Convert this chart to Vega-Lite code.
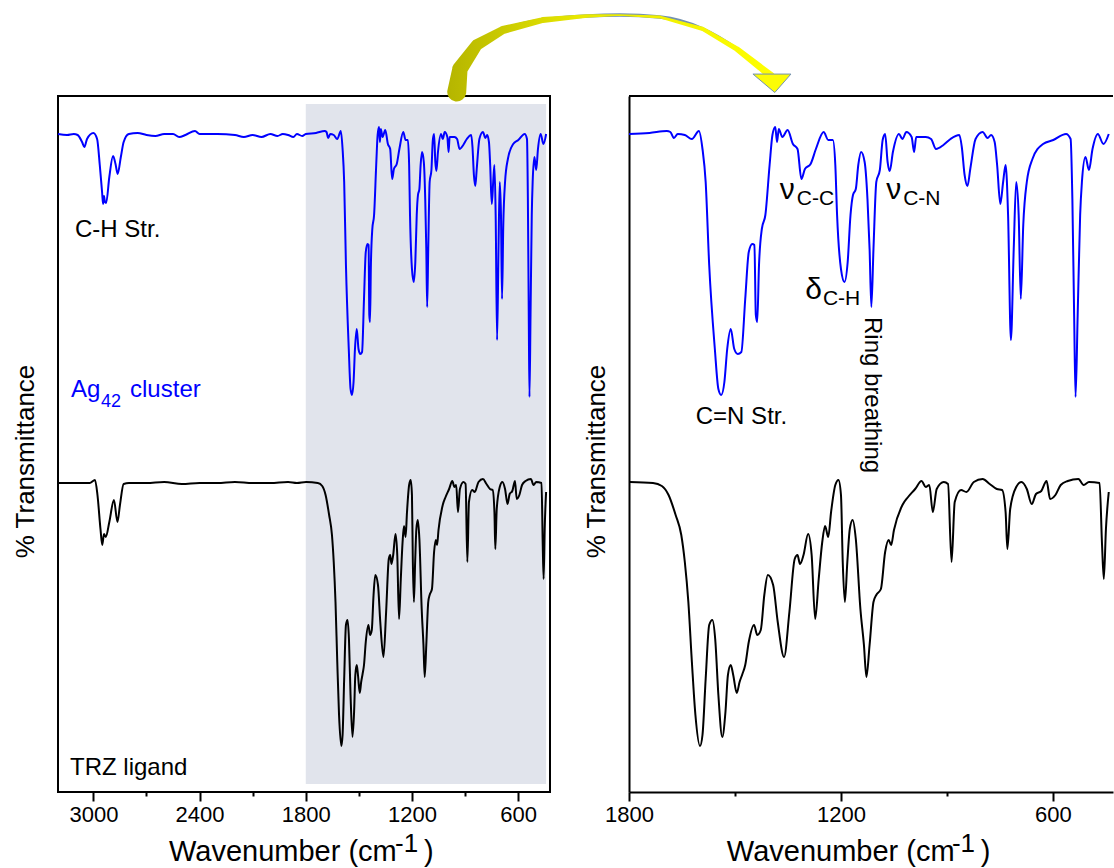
{
"$schema":"https://vega.github.io/schema/vega-lite/v6.json",
"background":"white",
"padding":{"left":11,"top":6,"right":0,"bottom":0},
"config":{"font":"Liberation Sans","view":{"stroke":null},"axis":{"labelFontSize":22,"labelColor":"black","titleColor":"black","titleFontWeight":"normal","grid":false,"tickColor":"black","tickWidth":2,"domainColor":"black","domainWidth":2,"labelFlush":false,"labelOverlap":false}},
"datasets":{"ir":[
{"s":"Ag42","wn":3200,"t":658},{"s":"Ag42","wn":3149,"t":657},{"s":"Ag42","wn":3111,"t":658},{"s":"Ag42","wn":3089,"t":657},{"s":"Ag42","wn":3064,"t":650},{"s":"Ag42","wn":3051,"t":645},{"s":"Ag42","wn":3036,"t":653},{"s":"Ag42","wn":3000,"t":659},{"s":"Ag42","wn":2979,"t":653},{"s":"Ag42","wn":2964,"t":627},{"s":"Ag42","wn":2951,"t":600},{"s":"Ag42","wn":2945,"t":588},{"s":"Ag42","wn":2940,"t":596},{"s":"Ag42","wn":2935,"t":590},{"s":"Ag42","wn":2928,"t":589},{"s":"Ag42","wn":2910,"t":615},{"s":"Ag42","wn":2889,"t":636},{"s":"Ag42","wn":2875,"t":628},{"s":"Ag42","wn":2863,"t":618},{"s":"Ag42","wn":2845,"t":635},{"s":"Ag42","wn":2829,"t":650},{"s":"Ag42","wn":2800,"t":658},{"s":"Ag42","wn":2750,"t":659},{"s":"Ag42","wn":2700,"t":657},{"s":"Ag42","wn":2650,"t":656},{"s":"Ag42","wn":2600,"t":658},{"s":"Ag42","wn":2550,"t":658},{"s":"Ag42","wn":2515,"t":655},{"s":"Ag42","wn":2480,"t":657},{"s":"Ag42","wn":2426,"t":661},{"s":"Ag42","wn":2400,"t":658},{"s":"Ag42","wn":2300,"t":658},{"s":"Ag42","wn":2200,"t":657},{"s":"Ag42","wn":2150,"t":655},{"s":"Ag42","wn":2100,"t":657},{"s":"Ag42","wn":2050,"t":655},{"s":"Ag42","wn":2000,"t":658},{"s":"Ag42","wn":1960,"t":656},{"s":"Ag42","wn":1930,"t":658},{"s":"Ag42","wn":1900,"t":657},{"s":"Ag42","wn":1870,"t":655},{"s":"Ag42","wn":1850,"t":658},{"s":"Ag42","wn":1820,"t":656},
{"s":"Ag42","wn":1800,"t":658},{"s":"Ag42","wn":1742,"t":659},{"s":"Ag42","wn":1693,"t":661},{"s":"Ag42","wn":1683,"t":660},{"s":"Ag42","wn":1673,"t":654},{"s":"Ag42","wn":1662,"t":658},{"s":"Ag42","wn":1642,"t":657},{"s":"Ag42","wn":1622,"t":653},{"s":"Ag42","wn":1602,"t":661},{"s":"Ag42","wn":1592,"t":643},{"s":"Ag42","wn":1583,"t":610},{"s":"Ag42","wn":1573,"t":527},{"s":"Ag42","wn":1557,"t":443},{"s":"Ag42","wn":1547,"t":403},{"s":"Ag42","wn":1539,"t":397},{"s":"Ag42","wn":1530,"t":410},{"s":"Ag42","wn":1522,"t":443},{"s":"Ag42","wn":1512,"t":463},{"s":"Ag42","wn":1502,"t":443},{"s":"Ag42","wn":1492,"t":438},{"s":"Ag42","wn":1482,"t":440},{"s":"Ag42","wn":1471,"t":493},{"s":"Ag42","wn":1461,"t":540},{"s":"Ag42","wn":1451,"t":548},{"s":"Ag42","wn":1445,"t":547},{"s":"Ag42","wn":1441,"t":477},{"s":"Ag42","wn":1437,"t":470},{"s":"Ag42","wn":1432,"t":527},{"s":"Ag42","wn":1424,"t":563},{"s":"Ag42","wn":1414,"t":577},{"s":"Ag42","wn":1402,"t":627},{"s":"Ag42","wn":1394,"t":657},{"s":"Ag42","wn":1386,"t":665},{"s":"Ag42","wn":1381,"t":650},{"s":"Ag42","wn":1376,"t":663},{"s":"Ag42","wn":1366,"t":655},{"s":"Ag42","wn":1351,"t":662},{"s":"Ag42","wn":1336,"t":648},{"s":"Ag42","wn":1323,"t":643},{"s":"Ag42","wn":1312,"t":613},{"s":"Ag42","wn":1302,"t":623},{"s":"Ag42","wn":1286,"t":628},{"s":"Ag42","wn":1271,"t":643},{"s":"Ag42","wn":1249,"t":660},{"s":"Ag42","wn":1236,"t":652},{"s":"Ag42","wn":1223,"t":652},{"s":"Ag42","wn":1216,"t":627},{"s":"Ag42","wn":1211,"t":577},{"s":"Ag42","wn":1200,"t":523},{"s":"Ag42","wn":1190,"t":510},{"s":"Ag42","wn":1181,"t":530},{"s":"Ag42","wn":1173,"t":577},{"s":"Ag42","wn":1166,"t":597},{"s":"Ag42","wn":1158,"t":603},{"s":"Ag42","wn":1151,"t":627},{"s":"Ag42","wn":1143,"t":640},{"s":"Ag42","wn":1133,"t":630},{"s":"Ag42","wn":1125,"t":593},{"s":"Ag42","wn":1119,"t":543},{"s":"Ag42","wn":1114,"t":485},{"s":"Ag42","wn":1108,"t":543},{"s":"Ag42","wn":1100,"t":610},{"s":"Ag42","wn":1090,"t":622},{"s":"Ag42","wn":1082,"t":652},{"s":"Ag42","wn":1075,"t":658},{"s":"Ag42","wn":1068,"t":630},{"s":"Ag42","wn":1062,"t":621},{"s":"Ag42","wn":1053,"t":640},{"s":"Ag42","wn":1036,"t":658},{"s":"Ag42","wn":1026,"t":653},{"s":"Ag42","wn":1015,"t":660},{"s":"Ag42","wn":1000,"t":655},{"s":"Ag42","wn":993,"t":640},{"s":"Ag42","wn":987,"t":655},{"s":"Ag42","wn":960,"t":655},{"s":"Ag42","wn":945,"t":653},{"s":"Ag42","wn":931,"t":643},{"s":"Ag42","wn":910,"t":647},{"s":"Ag42","wn":890,"t":653},{"s":"Ag42","wn":865,"t":657},{"s":"Ag42","wn":858,"t":645},{"s":"Ag42","wn":850,"t":617},{"s":"Ag42","wn":842,"t":606},{"s":"Ag42","wn":834,"t":623},{"s":"Ag42","wn":819,"t":653},{"s":"Ag42","wn":799,"t":660},{"s":"Ag42","wn":785,"t":654},{"s":"Ag42","wn":775,"t":657},{"s":"Ag42","wn":765,"t":650},{"s":"Ag42","wn":758,"t":627},{"s":"Ag42","wn":749,"t":588},{"s":"Ag42","wn":741,"t":610},{"s":"Ag42","wn":734,"t":627},{"s":"Ag42","wn":727,"t":577},{"s":"Ag42","wn":719,"t":452},{"s":"Ag42","wn":711,"t":543},{"s":"Ag42","wn":704,"t":610},{"s":"Ag42","wn":697,"t":577},{"s":"Ag42","wn":691,"t":493},{"s":"Ag42","wn":684,"t":567},{"s":"Ag42","wn":674,"t":610},{"s":"Ag42","wn":658,"t":633},{"s":"Ag42","wn":628,"t":648},{"s":"Ag42","wn":599,"t":652},{"s":"Ag42","wn":563,"t":658},{"s":"Ag42","wn":550,"t":653},{"s":"Ag42","wn":545,"t":593},{"s":"Ag42","wn":540,"t":477},{"s":"Ag42","wn":536,"t":395},{"s":"Ag42","wn":530,"t":477},{"s":"Ag42","wn":523,"t":577},{"s":"Ag42","wn":518,"t":610},{"s":"Ag42","wn":508,"t":635},{"s":"Ag42","wn":498,"t":622},{"s":"Ag42","wn":488,"t":643},{"s":"Ag42","wn":473,"t":658},{"s":"Ag42","wn":457,"t":648},{"s":"Ag42","wn":442,"t":658},
{"s":"TRZ","wn":3200,"t":309},{"s":"TRZ","wn":3100,"t":309},{"s":"TRZ","wn":3021,"t":309},{"s":"TRZ","wn":2991,"t":312},{"s":"TRZ","wn":2977,"t":297},{"s":"TRZ","wn":2960,"t":263},{"s":"TRZ","wn":2950,"t":247},{"s":"TRZ","wn":2940,"t":258},{"s":"TRZ","wn":2930,"t":255},{"s":"TRZ","wn":2910,"t":270},{"s":"TRZ","wn":2884,"t":292},{"s":"TRZ","wn":2864,"t":270},{"s":"TRZ","wn":2850,"t":287},{"s":"TRZ","wn":2829,"t":308},{"s":"TRZ","wn":2799,"t":309},{"s":"TRZ","wn":2700,"t":309},{"s":"TRZ","wn":2600,"t":310},{"s":"TRZ","wn":2500,"t":308},{"s":"TRZ","wn":2400,"t":309},{"s":"TRZ","wn":2300,"t":309},{"s":"TRZ","wn":2200,"t":310},{"s":"TRZ","wn":2100,"t":309},{"s":"TRZ","wn":2000,"t":309},{"s":"TRZ","wn":1900,"t":310},{"s":"TRZ","wn":1850,"t":309},
{"s":"TRZ","wn":1798,"t":310},{"s":"TRZ","wn":1732,"t":309},{"s":"TRZ","wn":1707,"t":306},{"s":"TRZ","wn":1688,"t":297},{"s":"TRZ","wn":1668,"t":277},{"s":"TRZ","wn":1652,"t":257},{"s":"TRZ","wn":1642,"t":230},{"s":"TRZ","wn":1632,"t":190},{"s":"TRZ","wn":1622,"t":130},{"s":"TRZ","wn":1612,"t":77},{"s":"TRZ","wn":1599,"t":46},{"s":"TRZ","wn":1592,"t":57},{"s":"TRZ","wn":1583,"t":113},{"s":"TRZ","wn":1573,"t":167},{"s":"TRZ","wn":1564,"t":172},{"s":"TRZ","wn":1556,"t":153},{"s":"TRZ","wn":1547,"t":97},{"s":"TRZ","wn":1536,"t":55},{"s":"TRZ","wn":1527,"t":80},{"s":"TRZ","wn":1520,"t":117},{"s":"TRZ","wn":1512,"t":127},{"s":"TRZ","wn":1505,"t":117},{"s":"TRZ","wn":1495,"t":99},{"s":"TRZ","wn":1487,"t":110},{"s":"TRZ","wn":1479,"t":118},{"s":"TRZ","wn":1471,"t":127},{"s":"TRZ","wn":1461,"t":150},{"s":"TRZ","wn":1446,"t":167},{"s":"TRZ","wn":1437,"t":157},{"s":"TRZ","wn":1427,"t":162},{"s":"TRZ","wn":1417,"t":197},{"s":"TRZ","wn":1407,"t":217},{"s":"TRZ","wn":1392,"t":207},{"s":"TRZ","wn":1379,"t":170},{"s":"TRZ","wn":1361,"t":135},{"s":"TRZ","wn":1346,"t":180},{"s":"TRZ","wn":1331,"t":233},{"s":"TRZ","wn":1323,"t":237},{"s":"TRZ","wn":1316,"t":228},{"s":"TRZ","wn":1306,"t":237},{"s":"TRZ","wn":1293,"t":258},{"s":"TRZ","wn":1283,"t":237},{"s":"TRZ","wn":1273,"t":173},{"s":"TRZ","wn":1263,"t":213},{"s":"TRZ","wn":1253,"t":250},{"s":"TRZ","wn":1245,"t":266},{"s":"TRZ","wn":1236,"t":255},{"s":"TRZ","wn":1228,"t":280},{"s":"TRZ","wn":1216,"t":307},{"s":"TRZ","wn":1207,"t":312},{"s":"TRZ","wn":1200,"t":297},{"s":"TRZ","wn":1195,"t":230},{"s":"TRZ","wn":1189,"t":190},{"s":"TRZ","wn":1182,"t":230},{"s":"TRZ","wn":1175,"t":263},{"s":"TRZ","wn":1167,"t":272},{"s":"TRZ","wn":1158,"t":253},{"s":"TRZ","wn":1145,"t":183},{"s":"TRZ","wn":1135,"t":147},{"s":"TRZ","wn":1128,"t":115},{"s":"TRZ","wn":1119,"t":147},{"s":"TRZ","wn":1108,"t":190},{"s":"TRZ","wn":1100,"t":197},{"s":"TRZ","wn":1087,"t":203},{"s":"TRZ","wn":1075,"t":240},{"s":"TRZ","wn":1065,"t":252},{"s":"TRZ","wn":1058,"t":247},{"s":"TRZ","wn":1050,"t":262},{"s":"TRZ","wn":1026,"t":287},{"s":"TRZ","wn":1010,"t":295},{"s":"TRZ","wn":990,"t":303},{"s":"TRZ","wn":972,"t":311},{"s":"TRZ","wn":960,"t":305},{"s":"TRZ","wn":950,"t":307},{"s":"TRZ","wn":940,"t":280},{"s":"TRZ","wn":929,"t":303},{"s":"TRZ","wn":909,"t":310},{"s":"TRZ","wn":897,"t":308},{"s":"TRZ","wn":887,"t":230},{"s":"TRZ","wn":878,"t":290},{"s":"TRZ","wn":860,"t":302},{"s":"TRZ","wn":845,"t":300},{"s":"TRZ","wn":824,"t":310},{"s":"TRZ","wn":799,"t":313},{"s":"TRZ","wn":779,"t":308},{"s":"TRZ","wn":759,"t":303},{"s":"TRZ","wn":744,"t":302},{"s":"TRZ","wn":734,"t":280},{"s":"TRZ","wn":729,"t":243},{"s":"TRZ","wn":721,"t":283},{"s":"TRZ","wn":704,"t":305},{"s":"TRZ","wn":689,"t":310},{"s":"TRZ","wn":674,"t":303},{"s":"TRZ","wn":660,"t":288},{"s":"TRZ","wn":648,"t":298},{"s":"TRZ","wn":633,"t":301},{"s":"TRZ","wn":618,"t":311},{"s":"TRZ","wn":608,"t":293},{"s":"TRZ","wn":593,"t":297},{"s":"TRZ","wn":578,"t":307},{"s":"TRZ","wn":558,"t":311},{"s":"TRZ","wn":528,"t":313},{"s":"TRZ","wn":513,"t":307},{"s":"TRZ","wn":498,"t":310},{"s":"TRZ","wn":468,"t":309},{"s":"TRZ","wn":461,"t":247},{"s":"TRZ","wn":456,"t":213},{"s":"TRZ","wn":450,"t":263},{"s":"TRZ","wn":442,"t":300}
],
"arrow":[{"k":0,"wn":947,"t":700},{"k":1,"wn":929,"t":723},{"k":2,"wn":834,"t":747},{"k":3,"wn":686,"t":762},{"k":4,"wn":460,"t":772},{"k":5,"wn":211,"t":776},{"k":6,"wn":25,"t":777},{"k":7,"wn":-201,"t":775},{"k":8,"wn":-444,"t":763},{"k":9,"wn":-636,"t":743},{"k":10,"wn":-766,"t":725},{"k":11,"wn":-829,"t":716}]},
"bounds":"flush",
"spacing":79,
"hconcat":[
{
"width":492,"height":696,
"view":{"stroke":"black","strokeWidth":2},
"encoding":{
"x":{"field":"wn","type":"quantitative","scale":{"domain":[3200,420],"nice":false,"zero":false},
"axis":{"values":[3000,2700,2400,2100,1800,1500,1200,900,600],"labelExpr":"datum.value % 600 == 0 ? format(datum.value, 'd') : ''","tickSize":{"condition":{"test":"datum.value % 600 == 0","value":9},"value":4},"labelPadding":3,"domain":false,"title":null}},
"y":{"field":"t","type":"quantitative","scale":{"domain":[0,696],"nice":false,"zero":false},
"axis":{"title":"% Transmittance","titleFontSize":26,"titlePadding":20,"ticks":false,"labels":false,"domain":false,"titleY":365}}
},
"layer":[
{"data":{"values":[{"wn":1800,"wn2":442,"t":8,"t2":688}]},"mark":{"type":"rect","color":"#e1e4ec"},"encoding":{"x2":{"field":"wn2"},"y2":{"field":"t2"}}},
{"data":{"name":"ir"},"mark":{"type":"line","strokeWidth":2,"interpolate":"monotone"},"encoding":{"color":{"field":"s","type":"nominal","scale":{"domain":["Ag42","TRZ"],"range":["#0000ff","#000000"]},"legend":null}}},
{"data":{"values":[{"txt":"C-H Str.","wn":3104,"t":555},{"txt":"TRZ ligand","wn":3132,"t":17}]},"mark":{"type":"text","align":"left","baseline":"alphabetic","fontSize":24,"color":"black"},"encoding":{"text":{"field":"txt"}}},
{"data":{"values":[{"txt":"Ag","wn":3127,"t":395},{"txt":"cluster","wn":2793,"t":395}]},"mark":{"type":"text","align":"left","baseline":"alphabetic","fontSize":24,"color":"#0000ff"},"encoding":{"text":{"field":"txt"}}},
{"data":{"values":[{"txt":"42","wn":2957,"t":385}]},"mark":{"type":"text","align":"left","baseline":"alphabetic","fontSize":18,"color":"#0000ff"},"encoding":{"text":{"field":"txt"}}},
{"data":{"values":[{"txt":"Wavenumber (cm","wn":2573,"t":-69},{"txt":")","wn":1132,"t":-69}]},"mark":{"type":"text","align":"left","baseline":"alphabetic","fontSize":29,"color":"black"},"encoding":{"text":{"field":"txt"}}},
{"data":{"values":[{"txt":"-1","wn":1296,"t":-60}]},"mark":{"type":"text","align":"left","baseline":"alphabetic","fontSize":26,"color":"black"},"encoding":{"text":{"field":"txt"}}},
{"data":{"name":"arrow"},"mark":{"type":"line","clip":false,"color":"#7391b0","strokeWidth":3.5,"interpolate":"monotone"},"encoding":{"order":{"field":"k","type":"quantitative"}}},
{"data":{"name":"arrow"},
"mark":{"type":"trail","clip":false,"fill":{"gradient":"linear","x1":0,"y1":0,"x2":1,"y2":0,"stops":[{"offset":0,"color":"#b5b500"},{"offset":0.4,"color":"#e8e800"},{"offset":1,"color":"#ffff00"}]}},
"encoding":{"order":{"field":"k","type":"quantitative"},"size":{"field":"k","type":"quantitative","scale":{"domain":[0,3,6,11],"range":[19,8,1.5,8]},"legend":null}}},
{"data":{"values":[{"wn":-834,"t":709}]},"mark":{"type":"point","shape":"M-1,-0.47L1,-0.47L0.15,0.5Z","filled":true,"fill":"#fcfc05","stroke":"#7391b0","strokeWidth":1,"size":1444,"opacity":1,"clip":false}}
]
},
{
"width":484,"height":696,
"view":{"stroke":null},
"encoding":{
"x":{"field":"wn","type":"quantitative","scale":{"domain":[1800,430],"nice":false,"zero":false},
"axis":{"values":[1800,1500,1200,900,600],"labelExpr":"datum.value % 600 == 0 ? format(datum.value, 'd') : ''","tickSize":{"condition":{"test":"datum.value % 600 == 0","value":9},"value":4},"labelPadding":3,"domain":true,"title":null}},
"y":{"field":"t","type":"quantitative","scale":{"domain":[0,696],"nice":false,"zero":false},
"axis":{"title":"% Transmittance","titleFontSize":26,"titlePadding":20,"ticks":false,"labels":false,"domain":true,"titleY":365}}
},
"layer":[
{"data":{"name":"ir"},"transform":[{"filter":"datum.wn <= 1800"}],"mark":{"type":"line","strokeWidth":2,"interpolate":"monotone"},"encoding":{"color":{"field":"s","type":"nominal","scale":{"domain":["Ag42","TRZ"],"range":["#0000ff","#000000"]},"legend":null}}},
{"data":{"values":[{"wn":1800,"wn2":430,"t":696}]},"mark":{"type":"rule","color":"black","strokeWidth":2},"encoding":{"x2":{"field":"wn2"}}},
{"data":{"values":[{"txt":"C=N Str.","wn":1611,"t":368}]},"mark":{"type":"text","align":"left","baseline":"alphabetic","fontSize":24,"color":"black"},"encoding":{"text":{"field":"txt"}}},
{"data":{"values":[{"txt":"ν","wn":1373,"t":593},{"txt":"δ","wn":1301,"t":493},{"txt":"ν","wn":1072,"t":593}]},"mark":{"type":"text","align":"left","baseline":"alphabetic","fontSize":30,"color":"black"},"encoding":{"text":{"field":"txt"}}},
{"data":{"values":[{"txt":"C-C","wn":1325,"t":587},{"txt":"C-H","wn":1251,"t":487},{"txt":"C-N","wn":1024,"t":587}]},"mark":{"type":"text","align":"left","baseline":"alphabetic","fontSize":21,"color":"black"},"encoding":{"text":{"field":"txt"}}},
{"data":{"values":[{"txt":"Ring breathing","wn":1132,"t":475}]},"mark":{"type":"text","align":"left","baseline":"alphabetic","angle":90,"fontSize":24,"color":"black"},"encoding":{"text":{"field":"txt"}}},
{"data":{"values":[{"txt":"Wavenumber (cm","wn":1523,"t":-69},{"txt":")","wn":804,"t":-69}]},"mark":{"type":"text","align":"left","baseline":"alphabetic","fontSize":29,"color":"black"},"encoding":{"text":{"field":"txt"}}},
{"data":{"values":[{"txt":"-1","wn":886,"t":-60}]},"mark":{"type":"text","align":"left","baseline":"alphabetic","fontSize":26,"color":"black"},"encoding":{"text":{"field":"txt"}}}
]
}
]
}
